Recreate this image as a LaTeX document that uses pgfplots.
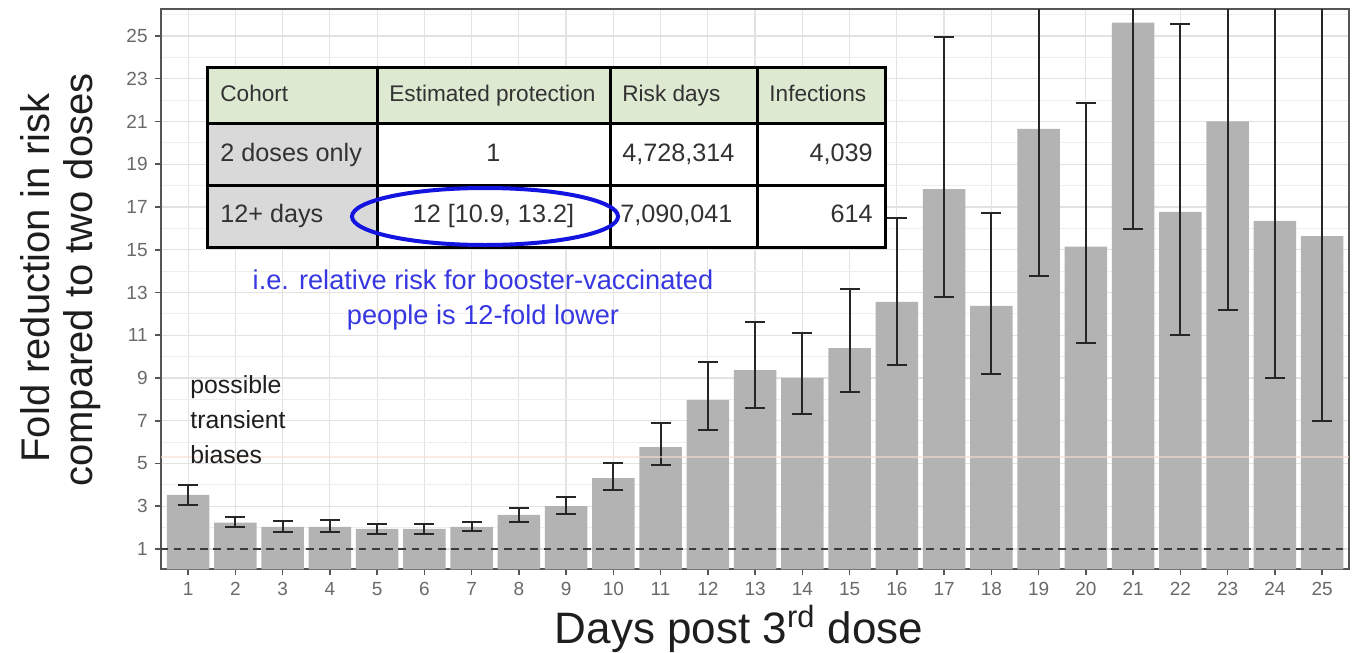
\documentclass[border=0pt]{standalone}
\usepackage{fontspec}
\setmainfont{Liberation Sans}
\usepackage{pgfplots}
\usepackage{pgfplotstable}
\pgfplotsset{compat=1.18}

\definecolor{barfill}{RGB}{179,179,179}
\definecolor{gridmajor}{RGB}{226,226,226}
\definecolor{gridminor}{RGB}{238,238,238}
\definecolor{framecol}{RGB}{85,85,85}
\definecolor{ticktext}{RGB}{105,105,105}
\definecolor{errcol}{RGB}{38,38,38}
\definecolor{refline}{RGB}{60,60,60}
\definecolor{hdrgreen}{RGB}{222,233,210}
\definecolor{cellgrey}{RGB}{217,217,217}
\definecolor{ovalblue}{RGB}{20,20,225}
\definecolor{noteblue}{RGB}{55,55,225}
\definecolor{tabtext}{RGB}{50,50,50}
\definecolor{titletext}{RGB}{30,30,30}
\definecolor{faintline}{RGB}{245,222,208}

% fold reduction in risk by day after the third dose, with 95% interval
\pgfplotstableread{
day est   lo    hi
1   3.53  3.06  3.99
2   2.23  2.02  2.51
3   2.03  1.80  2.31
4   2.03  1.80  2.36
5   1.94  1.70  2.17
6   1.94  1.70  2.17
7   2.03  1.84  2.26
8   2.60  2.26  2.92
9   3.00  2.64  3.43
10  4.32  3.76  5.02
11  5.77  4.93  6.90
12  7.97  6.57  9.75
13  9.37  7.60  11.60
14  9.00  7.32  11.10
15  10.40 8.35  13.16
16  12.56 9.60  16.49
17  17.84 12.79 24.95
18  12.37 9.19  16.72
19  20.65 13.77 30.00
20  15.15 10.64 21.87
21  25.62 15.97 30.00
22  16.77 11.01 25.56
23  21.00 12.18 30.00
24  16.35 8.99  30.00
25  15.64 6.99  30.00
}\foldtable

\begin{document}
\begin{tikzpicture}
\begin{axis}[
  scale only axis,
  width=594.15pt, height=280.15pt,
  xmin=0.42, xmax=25.57,
  ymin=0.05, ymax=26.26,
  xtick={1,...,25},
  ytick={1,3,...,25},
  minor ytick={2,4,...,26},
  grid=both,
  major grid style={draw=gridmajor, line width=0.6pt},
  minor grid style={draw=gridminor, line width=0.45pt},
  axis line style={draw=framecol, line width=0.9pt},
  tick align=outside,
  tick pos=left,
  major tick length=3pt,
  minor tick length=0pt,
  tick style={draw=framecol, line width=0.8pt},
  ticklabel style={font=\fontsize{9.5}{11}\selectfont, text=ticktext},
  /pgf/number format/assume math mode=true,
  clip=true,
]
  \addplot[ybar, bar width=0.9, fill=barfill, draw=none,
    error bars/.cd, y dir=both, y explicit,
    error bar style={draw=errcol, line width=1pt},
    error mark options={draw=errcol, rotate=90, mark size=5pt, line width=1pt}]
    table[x=day, y=est,
      y error plus expr=\thisrow{hi}-\thisrow{est},
      y error minus expr=\thisrow{est}-\thisrow{lo}] {\foldtable};
  % no-change reference
  \addplot[draw=refline, line width=1.4pt, dash pattern=on 3.8pt off 2.8pt]
    coordinates {(0.42,1) (25.57,1)};
  \addplot[draw=faintline, line width=0.8pt, opacity=0.6]
    coordinates {(0.42,5.3) (25.57,5.3)};
\end{axis}

% annotation layer in 1353 x 652 units
\begin{scope}[shift={(-80.35pt,284.65pt)}, x=0.5pt, y=-0.5pt]
  \path (0,0) rectangle (1353,652);

  % summary table
  \fill[hdrgreen] (207,67) rectangle (885,123);
  \fill[cellgrey] (207,123) rectangle (377,247);
  \fill[white] (377,123) rectangle (885,247);
  \draw[line width=1.5pt] (207,67) rectangle (885,247);
  \draw[line width=1.5pt] (377,67) -- (377,247) (610,67) -- (610,247) (757,67) -- (757,247);
  \draw[line width=1.5pt] (207,123) -- (885,123) (207,185) -- (885,185);

  \begin{scope}[every node/.style={text=tabtext, inner sep=0pt, font=\fontsize{11.3}{13}\selectfont}]
    \node[anchor=base west] at (220,101) {Cohort};
    \node[anchor=base west] at (389,101) {Estimated protection};
    \node[anchor=base west] at (622,101) {Risk days};
    \node[anchor=base west] at (769,101) {Infections};
  \end{scope}
  \begin{scope}[every node/.style={text=tabtext, inner sep=0pt, font=\fontsize{12.6}{15}\selectfont}]
    \node[anchor=base west] at (220,161) {2 doses only};
    \node[anchor=base] at (493.5,161) {1};
    \node[anchor=base west] at (622,161) {4,728,314};
    \node[anchor=base east] at (873,161) {4,039};
    \node[anchor=base west] at (220,222) {12+ days};
    \node[anchor=base] at (493.5,222) {12 [10.9, 13.2]};
    \node[anchor=base west] at (620,222) {7,090,041};
    \node[anchor=base east] at (873,222) {614};
  \end{scope}

  \draw[ovalblue, line width=2pt] (485,216.5) ellipse [x radius=133, y radius=28.5];

  % notes
  \node[text=noteblue, anchor=base, inner sep=0pt, font=\fontsize{13.6}{16}\selectfont] at (483,289) {i.e. relative risk for booster-vaccinated};
  \node[text=noteblue, anchor=base, inner sep=0pt, font=\fontsize{13.6}{16}\selectfont] at (483,324) {people is 12-fold lower};

  \begin{scope}[every node/.style={text=titletext, anchor=base west, inner sep=0pt, font=\fontsize{12.4}{15}\selectfont}]
    \node at (190,393) {possible};
    \node at (190,428) {transient};
    \node at (190,463) {biases};
  \end{scope}

  % axis titles
  \node[text=titletext, rotate=90, anchor=base, inner sep=0pt, font=\fontsize{20}{24}\selectfont] at (50,278) {Fold reduction in risk};
  \node[text=titletext, rotate=90, anchor=base, inner sep=0pt, font=\fontsize{20}{24}\selectfont] at (93,280) {compared to two doses};
  \node[text=titletext, anchor=base, inner sep=0pt, font=\fontsize{22}{26}\selectfont] at (739,643) {Days post 3\textsuperscript{rd} dose};
\end{scope}
\end{tikzpicture}
\end{document}
